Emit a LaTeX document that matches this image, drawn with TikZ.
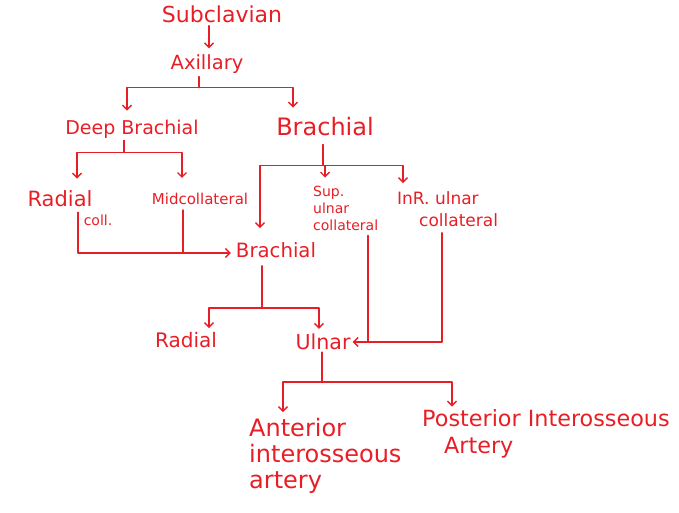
\documentclass[tikz,border=0pt]{standalone}
\usepackage{fontspec}
\setmainfont{DejaVu Sans}
\usetikzlibrary{arrows.meta}

\definecolor{penred}{RGB}{232,30,38}
\newcommand{\penfont}[2]{\fontsize{#1}{#2}\selectfont}

\begin{document}
\begin{tikzpicture}[x=1pt,y=-1pt,line cap=round,line join=round,
  >={Straight Barb[length=4.5pt,width=9pt]},
  every node/.style={inner sep=0pt,text=penred},
  wire/.style={draw=penred,line width=1.4pt}]
  \useasboundingbox (0,0) rectangle (679,513);
  % vessels
  \node[font=\penfont{22}{24}] (subcl) at (222,14) {Subclavian};
  \node[font=\penfont{19.5}{22}] (axil) at (207,64) {Axillary};
  \node[font=\penfont{19}{22}] (deepbr) at (132,129) {Deep Brachial};
  \node[font=\penfont{24}{26}] (brach) at (325,127) {Brachial};
  \node[font=\penfont{21}{24}] (radcoll) at (60,199) {Radial};
  \node[font=\penfont{14}{15}] (radcollb) at (98,220) {coll.};
  \node[font=\penfont{15}{17}] (midcoll) at (200,199) {Midcollateral};
  \node[font=\penfont{14}{17},align=left,anchor=west] (supuln) at (313,208) {Sup.\\ulnar\\collateral};
  \node[font=\penfont{17}{22},align=left,anchor=west] (infuln) at (397,209) {InR. ulnar\\\hspace*{22pt}collateral};
  \node[font=\penfont{19.7}{22}] (brach2) at (276,250) {Brachial};
  \node[font=\penfont{20}{22}] (radial) at (186,340) {Radial};
  \node[font=\penfont{20.6}{22}] (ulnar) at (323,342) {Ulnar};
  \node[font=\penfont{24}{26},align=left,anchor=west] (antint) at (249,456) {Anterior\\interosseous\\artery};
  \node[font=\penfont{22.3}{27},align=left,anchor=west] (postint) at (422,434) {Posterior Interosseous\\\hspace*{22pt}Artery};
  \coordinate (brin) at ([yshift=-3pt]brach2.west);
  % branches
  \draw[wire,->,shorten <=3pt,shorten >=6pt] ([xshift=2pt]axil.north |- subcl.south) -- ([xshift=2pt]axil.north);
  \draw[wire,shorten <=3pt] ([xshift=-8pt]axil.south) -- ++(0,14) coordinate (axj);
  \draw[wire,->,shorten >=9pt] (axj) -| ([xshift=-5pt]deepbr.north);
  \draw[wire,->,shorten >=10pt] (axj) -| ([xshift=-32pt]brach.north);
  \draw[wire,shorten <=2pt] ([xshift=-8pt]deepbr.south) -- ++(0,14) coordinate (dbj);
  \draw[wire,->,shorten >=12pt] (dbj) -| ([xshift=17pt]radcoll.north);
  \draw[wire,->,shorten >=15pt] (dbj) -| ([xshift=-18pt]midcoll.north);
  \draw[wire,->,shorten <=5pt,shorten >=5pt] ([xshift=18pt]radcoll.south) |- (brin);
  \draw[wire,shorten <=5pt] ([xshift=-17pt]midcoll.south) -- ([xshift=-17pt]midcoll.south |- brin);
  \draw[wire,shorten <=8pt] ([xshift=-2pt]brach.south) -- ++(0,29) coordinate (brj);
  \draw[wire,->,shorten >=14pt] (brj) -| ([xshift=-16pt]brach2.north);
  \draw[wire,->,shorten >=8pt] (brj) -| ([xshift=12pt]supuln.north west);
  \draw[wire,->,shorten >=8pt] (brj) -| ([xshift=6pt]infuln.north west);
  \draw[wire,->,shorten <=6pt,shorten >=2pt] ([xshift=45pt]infuln.south west) |- (ulnar.east);
  \draw[wire,shorten <=5pt] ([xshift=55pt]supuln.south west) -- ([xshift=55pt]supuln.south west |- ulnar.east);
  \draw[wire,shorten <=8pt] ([xshift=-14pt]brach2.south) -- ++(0,50) coordinate (b2j);
  \draw[wire,->,shorten >=4pt] (b2j) -| ([xshift=23pt]radial.north);
  \draw[wire,->,shorten >=5pt] (b2j) -| ([xshift=-4pt]ulnar.north);
  \draw[wire,shorten <=2pt] ([xshift=-1pt]ulnar.south) -- ++(0,32) coordinate (uj);
  \draw[wire,->,shorten >=6pt] (uj) -| ([xshift=34pt]antint.north west);
  \draw[wire,->,shorten >=3pt] (uj) -| ([xshift=30pt]postint.north west);
\end{tikzpicture}
\end{document}
